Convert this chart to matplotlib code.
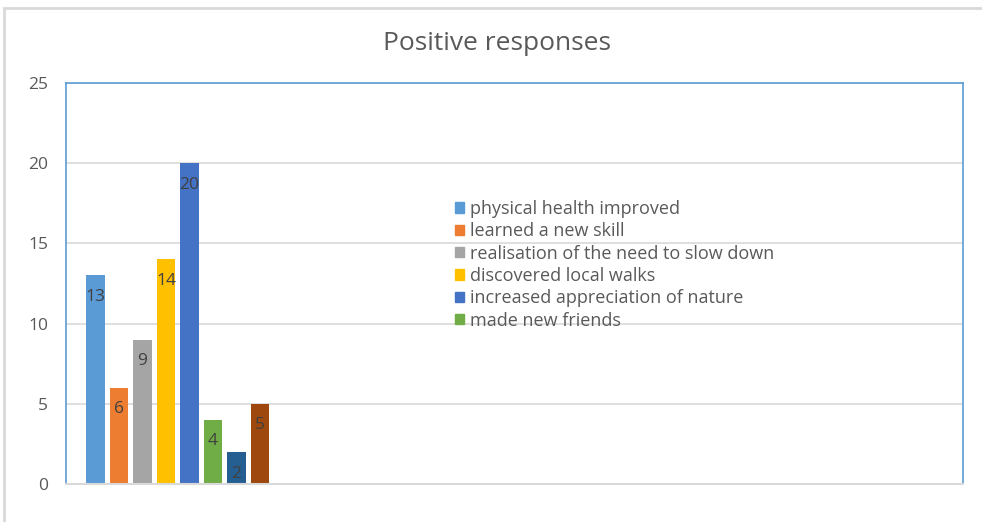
import matplotlib
matplotlib.use("Agg")
import matplotlib.pyplot as plt
from matplotlib.patches import Patch, Rectangle

# survey answers, one bar each
responses = [
    "physical health improved",
    "learned a new skill",
    "realisation of the need to slow down",
    "discovered local walks",
    "increased appreciation of nature",
    "made new friends",
    "",
    "",
]
counts = [13, 6, 9, 14, 20, 4, 2, 5]
colors = ["#5b9bd5", "#ed7d31", "#a5a5a5", "#ffc000",
          "#4472c4", "#70ad47", "#255e91", "#9e480e"]
yticks = [0, 5, 10, 15, 20, 25]

plt.rcParams["font.family"] = ["Open Sans", "DejaVu Sans"]
TXT = "#595959"

fig = plt.figure(figsize=(9.82, 5.22), dpi=100)
W, H = 982, 522

# outer chart frame
fig.patches.append(Rectangle((4 / W, -0.1), 1.2, 1 - 8 / H + 0.1,
                             transform=fig.transFigure, fill=False,
                             edgecolor="#d9d9d9", lw=2))

ax = fig.add_axes([66 / W, 38 / H, 897 / W, 401 / H])
x = list(range(len(counts)))
ax.bar(x, counts, width=0.79, color=colors, zorder=3)
for xi, v in zip(x, counts):
    ax.text(xi, v - 1.35, str(v), ha="center", va="center",
            fontsize=12.5, color="#404040", zorder=4)

ax.set_xlim(-1.255, 36.9)
ax.set_ylim(0, 25)
ax.set_yticks(yticks)
ax.set_xticks([])
ax.tick_params(axis="y", length=0, pad=13, labelsize=12.5, labelcolor=TXT)
ax.grid(axis="y", color="#d9d9d9", lw=1.2, zorder=0)
for side in ("left", "right", "top"):
    ax.spines[side].set_color("#5b9bd5")
    ax.spines[side].set_linewidth(1.2)
ax.spines["bottom"].set_color("#d9d9d9")
ax.spines["bottom"].set_linewidth(1.5)
ax.spines["bottom"].set_zorder(5)

fig.text(497 / W, 1 - 43 / H, "Positive responses", ha="center",
         va="center", fontsize=19, color=TXT)

handles = [Patch(color=c, label=lab) for c, lab in zip(colors, responses) if lab]
fig.legend(handles=handles, loc="upper left",
           bbox_to_anchor=(446 / W, 1 - 191 / H), frameon=False,
           fontsize=13, labelcolor=TXT, handlelength=0.5,
           handleheight=0.5, handletextpad=0.35, labelspacing=0.24,
           borderpad=0)

fig.savefig("out.png", dpi=100)
